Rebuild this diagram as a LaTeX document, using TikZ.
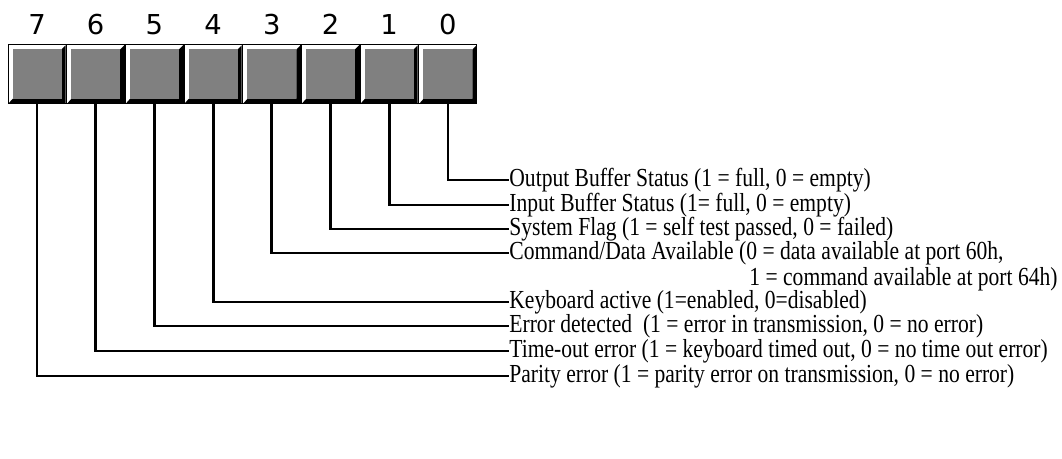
\documentclass[tikz,border=0pt]{standalone}
\usepackage{fontspec}
\newfontfamily\labelfont[FakeStretch=0.83]{Liberation Serif}
\newfontfamily\numfont{DejaVu Sans}
\usetikzlibrary{
  positioning,
  calc
}

\begin{document}
\begin{tikzpicture}[x=0.5pt, y=-0.5pt,
      bitbox/.style={rectangle, fill=gray, minimum width=24.5pt, minimum height=25pt, inner sep=0pt},
      bitnum/.style={anchor=base, inner sep=0pt, font=\numfont\fontsize{13.7}{16}\selectfont},
      desc/.style={anchor=west, inner sep=0pt, font=\labelfont\fontsize{13}{15}\selectfont},
      wire/.style={line width=1.4pt}
    ]
      \useasboundingbox (0,0) rectangle (1062,459);

      % Register bits
      \foreach \b [count=\i from 0] in {7,6,...,0} {
        \pgfmathsetmacro\cx{37+58.7*\i}
        \draw[line width=0.5pt, fill=white] (\cx-29,45) rectangle (\cx+29,104);
        \fill (\cx+24.5,49.5) -- (\cx+28.5,45.5) -- (\cx+28.5,103.5) -- (\cx-28.5,103.5) -- (\cx-24.5,99) -- (\cx+24.5,99) -- cycle;
        \node[bitbox] (b\b) at (\cx,74.25) {};
        \node[bitnum] (n\b) at (\cx,35) {\b};
      }

      % Descriptions
      \node[desc] (l0) at (509,180) {Output Buffer Status (1 = full, 0 = empty)};
      \node[desc] (l1) at (509,205) {Input Buffer Status (1= full, 0 = empty)};
      \node[desc] (l2) at (509,229) {System Flag (1 = self test passed, 0 = failed)};
      \node[desc] (l3) at (509,253) {Command/Data Available (0 = data available at port 60h,};
      \node[desc, anchor=east] (l3b) at (1058,279) {1 = command available at port 64h)};
      \node[desc] (l4) at (509,302) {Keyboard active (1=enabled, 0=disabled)};
      \node[desc] (l5) at (509,326) {Error detected\ \ (1 = error in transmission, 0 = no error)};
      \node[desc] (l6) at (509,351) {Time-out error (1 = keyboard timed out, 0 = no time out error)};
      \node[desc] (l7) at (509,376) {Parity error (1 = parity error on transmission, 0 = no error)};

      % Wires
      \foreach \b in {0,...,7}
        \draw[wire] (b\b.south) |- (l\b.west);
    \end{tikzpicture}
\end{document}
